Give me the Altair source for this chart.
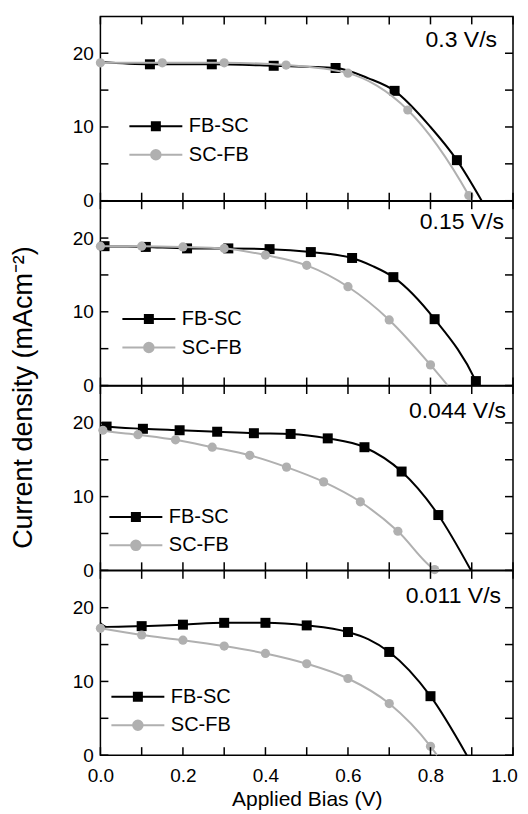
import altair as alt
import pandas as pd

SERIES = ["FB-SC", "SC-FB"]
SPEEDS = ["0.3 V/s", "0.15 V/s", "0.044 V/s", "0.011 V/s"]
X_TICKS = [0.0, 0.1, 0.2, 0.3, 0.4, 0.5, 0.6, 0.7, 0.8, 0.9, 1.0]
Y_TICKS = [0, 5, 10, 15, 20]

# ---- panel 1 : 0.3 V/s ----
p1_fb_line_v = [0.0, 0.12, 0.27, 0.42, 0.57, 0.65, 0.713, 0.80, 0.864, 0.924]
p1_fb_line_j = [18.8, 18.5, 18.5, 18.3, 18.0, 16.6, 14.9, 10.0, 5.5, 0.0]
p1_fb_mark_v = [0.12, 0.27, 0.42, 0.57, 0.713, 0.864]
p1_fb_mark_j = [18.5, 18.5, 18.3, 18.0, 14.9, 5.5]
p1_sc_line_v = [0.0, 0.15, 0.30, 0.45, 0.60, 0.67, 0.745, 0.893, 0.90]
p1_sc_line_j = [18.7, 18.7, 18.7, 18.4, 17.3, 15.6, 12.3, 0.7, 0.0]
p1_sc_mark_v = [0.0, 0.15, 0.30, 0.45, 0.60, 0.745, 0.893]
p1_sc_mark_j = [18.7, 18.7, 18.7, 18.4, 17.3, 12.3, 0.7]

# ---- panel 2 : 0.15 V/s ----
p2_fb_line_v = [0.0, 0.01, 0.11, 0.21, 0.31, 0.41, 0.51, 0.61, 0.66, 0.71, 0.81, 0.91, 0.915]
p2_fb_line_j = [19.0, 18.9, 18.8, 18.6, 18.6, 18.5, 18.1, 17.3, 16.2, 14.7, 9.0, 0.6, 0.0]
p2_fb_mark_v = [0.01, 0.11, 0.21, 0.31, 0.41, 0.51, 0.61, 0.71, 0.81, 0.91]
p2_fb_mark_j = [18.9, 18.8, 18.6, 18.6, 18.5, 18.1, 17.3, 14.7, 9.0, 0.6]
p2_sc_line_v = [0.0, 0.10, 0.20, 0.30, 0.40, 0.50, 0.60, 0.70, 0.80, 0.842]
p2_sc_line_j = [18.9, 18.9, 18.8, 18.6, 17.7, 16.3, 13.4, 8.9, 2.8, 0.0]
p2_sc_mark_v = [0.0, 0.10, 0.20, 0.30, 0.40, 0.50, 0.60, 0.70, 0.80]
p2_sc_mark_j = [18.9, 18.9, 18.8, 18.6, 17.7, 16.3, 13.4, 8.9, 2.8]

# ---- panel 3 : 0.044 V/s ----
p3_fb_line_v = [0.0, 0.015, 0.103, 0.192, 0.283, 0.372, 0.461, 0.551, 0.640, 0.730, 0.819, 0.898]
p3_fb_line_j = [19.6, 19.5, 19.2, 19.0, 18.8, 18.6, 18.5, 17.9, 16.7, 13.4, 7.5, 0.0]
p3_fb_mark_v = [0.015, 0.103, 0.192, 0.283, 0.372, 0.461, 0.551, 0.640, 0.730, 0.819]
p3_fb_mark_j = [19.5, 19.2, 19.0, 18.8, 18.6, 18.5, 17.9, 16.7, 13.4, 7.5]
p3_sc_line_v = [0.0, 0.006, 0.091, 0.182, 0.271, 0.362, 0.451, 0.541, 0.630, 0.721, 0.810, 0.813]
p3_sc_line_j = [19.1, 19.0, 18.4, 17.7, 16.7, 15.6, 14.0, 12.0, 9.3, 5.3, 0.1, 0.0]
p3_sc_mark_v = [0.006, 0.091, 0.182, 0.271, 0.362, 0.451, 0.541, 0.630, 0.721, 0.810]
p3_sc_mark_j = [19.0, 18.4, 17.7, 16.7, 15.6, 14.0, 12.0, 9.3, 5.3, 0.1]

# ---- panel 4 : 0.011 V/s ----
p4_fb_line_v = [0.0, 0.015, 0.1, 0.2, 0.3, 0.4, 0.5, 0.6, 0.65, 0.7, 0.8, 0.888]
p4_fb_line_j = [17.9, 17.4, 17.5, 17.7, 17.95, 17.95, 17.6, 16.7, 15.7, 14.0, 8.0, 0.0]
p4_fb_mark_v = [0.1, 0.2, 0.3, 0.4, 0.5, 0.6, 0.7, 0.8]
p4_fb_mark_j = [17.5, 17.7, 17.95, 17.95, 17.6, 16.7, 14.0, 8.0]
p4_sc_line_v = [0.0, 0.1, 0.2, 0.3, 0.4, 0.5, 0.6, 0.7, 0.8, 0.816]
p4_sc_line_j = [17.2, 16.3, 15.6, 14.8, 13.8, 12.4, 10.4, 7.0, 1.2, 0.0]
p4_sc_mark_v = [0.0, 0.1, 0.2, 0.3, 0.4, 0.5, 0.6, 0.7, 0.8]
p4_sc_mark_j = [17.2, 16.3, 15.6, 14.8, 13.8, 12.4, 10.4, 7.0, 1.2]

PANEL_DATA = [
    (p1_fb_line_v, p1_fb_line_j, p1_fb_mark_v, p1_fb_mark_j, p1_sc_line_v, p1_sc_line_j, p1_sc_mark_v, p1_sc_mark_j),
    (p2_fb_line_v, p2_fb_line_j, p2_fb_mark_v, p2_fb_mark_j, p2_sc_line_v, p2_sc_line_j, p2_sc_mark_v, p2_sc_mark_j),
    (p3_fb_line_v, p3_fb_line_j, p3_fb_mark_v, p3_fb_mark_j, p3_sc_line_v, p3_sc_line_j, p3_sc_mark_v, p3_sc_mark_j),
    (p4_fb_line_v, p4_fb_line_j, p4_fb_mark_v, p4_fb_mark_j, p4_sc_line_v, p4_sc_line_j, p4_sc_mark_v, p4_sc_mark_j),
]

# ---- styling / layout ----
FONT = "Liberation Sans"
BLACK = "#000000"
GRAY = "#b0b0b0"
W, H = 413, 184.5
X_MAX, Y_MAX = 1.0, 25.0
TICK_SIZE = 64  # symbol size: sqrt(64) = 8 px tick length
TICK_UP, TICK_DOWN = "M0,0V-2", "M0,0V2"
TICK_RIGHT, TICK_LEFT = "M0,0H2", "M0,0H-2"
LEGEND_PATHS = [
    "M-5.3,0H5.3M-0.8,-0.8H0.8V0.8H-0.8Z",
    "M-5.3,0H5.3M0.95,0A0.95,0.95,0,1,1,-0.95,0A0.95,0.95,0,1,1,0.95,0Z",
]
LEG_X = [31, 24, 11, 13]
LEG_Y = [100, 108, 121, 116]
SPD_X = [397, 404, 406, 401]
SPD_Y = [24, 21, 25, 25]

xscale = alt.Scale(domain=[0, X_MAX], nice=False, zero=False)
yscale = alt.Scale(domain=[0, Y_MAX], nice=False)


def make_panel(i):
    fbv, fbj, fbmv, fbmj, scv, scj, scmv, scmj = PANEL_DATA[i]
    fb_line = pd.DataFrame({"v": fbv, "j": fbj})
    fb_mark = pd.DataFrame({"v": fbmv, "j": fbmj})
    sc_line = pd.DataFrame({"v": scv, "j": scj})
    sc_mark = pd.DataFrame({"v": scmv, "j": scmj})
    xt_bottom = pd.DataFrame({"v": X_TICKS, "j": [0.0] * len(X_TICKS)})
    xt_top = pd.DataFrame({"v": X_TICKS, "j": [Y_MAX] * len(X_TICKS)})
    yt_left = pd.DataFrame({"j": Y_TICKS, "v": [0.0] * len(Y_TICKS)})
    yt_right = pd.DataFrame({"j": Y_TICKS, "v": [X_MAX] * len(Y_TICKS)})
    last = i == 3

    x_bottom = alt.Axis(
        orient="bottom", values=X_TICKS, ticks=False, tickSize=0,
        labels=last, labelFlush=False, labelOverlap=False, labelPadding=11,
        labelOffset={"condition": {"test": "datum.value > 0.95", "value": -9}, "value": 0},
        labelExpr="round(datum.value * 10) % 2 === 0 ? format(datum.value, '.1f') : ''",
        titleFontSize=21, titlePadding=3, titleFontWeight="normal",
    )
    y_left_kwargs = dict(
        orient="left", values=Y_TICKS, ticks=False, tickSize=0,
        labelFlush=False, labelOverlap=False, labelPadding=7,
        labelExpr="datum.value % 10 === 0 ? datum.label : ''",
    )
    if i == 1:
        y_left_kwargs.update(
            titleFontSize=27, titleFontWeight="normal", titleAngle=270,
            titleX=-69, titleY=196, titleAlign="center", titleBaseline="alphabetic",
        )
    y_left = alt.Axis(**y_left_kwargs)

    xt = "Applied Bias (V)" if last else None
    yt = "Current density (mAcm\u207b\u00b2)" if i == 1 else None

    # identical position encodings in every layer -> one shared axis per side
    X = alt.X("v:Q", scale=xscale, axis=x_bottom, title=xt)
    Y = alt.Y("j:Q", scale=yscale, axis=y_left, title=yt)

    line_fb = alt.Chart(fb_line).mark_line(
        interpolate="monotone", color=BLACK, strokeWidth=2
    ).encode(x=X, y=Y)
    pts_fb = alt.Chart(fb_mark).mark_point(
        shape="square", filled=True, color=BLACK, size=100, opacity=1
    ).encode(x=X, y=Y)
    line_sc = alt.Chart(sc_line).mark_line(
        interpolate="monotone", color=GRAY, strokeWidth=2
    ).encode(x=X, y=Y)
    pts_sc = alt.Chart(sc_mark).mark_point(
        shape="circle", filled=True, color=GRAY, size=85, opacity=1
    ).encode(x=X, y=Y)

    # inward ticks on all four sides of the frame, drawn as stroke-only symbols
    def tick_layer(df, path):
        return alt.Chart(df).mark_point(
            shape=path, filled=False, color=BLACK, strokeWidth=1.5,
            size=TICK_SIZE, opacity=1,
        ).encode(x=X, y=Y)

    ticks_bottom = tick_layer(xt_bottom, TICK_UP)
    ticks_top = tick_layer(xt_top, TICK_DOWN)
    ticks_left = tick_layer(yt_left, TICK_RIGHT)
    ticks_right = tick_layer(yt_right, TICK_LEFT)

    leg = alt.Legend(
        title=None, orient="none", direction="vertical",
        legendX=LEG_X[i], legendY=LEG_Y[i],
        symbolSize=100, symbolStrokeWidth=2, symbolOpacity=1,
        symbolOffset=14.5, labelOffset=23, rowPadding=8.5,
        labelFont=FONT, labelFontSize=20, labelColor="black",
    )
    legend_layer = alt.Chart(pd.DataFrame({"series": SERIES})).transform_filter(
        "false"
    ).mark_point(filled=True).encode(
        fill=alt.Fill("series:N", scale=alt.Scale(domain=SERIES, range=[BLACK, GRAY]), legend=leg),
        stroke=alt.Stroke("series:N", scale=alt.Scale(domain=SERIES, range=[BLACK, GRAY]), legend=leg),
        shape=alt.Shape("series:N", scale=alt.Scale(domain=SERIES, range=LEGEND_PATHS), legend=leg),
    )
    speed = alt.Chart(pd.DataFrame({"speed": [SPEEDS[i]]})).mark_text(
        align="right", baseline="middle", font=FONT, fontSize=23, color="black"
    ).encode(
        text="speed:N",
        x=alt.value(SPD_X[i]),
        y=alt.value(SPD_Y[i]),
    )
    return alt.layer(
        line_fb, pts_fb, line_sc, pts_sc,
        ticks_bottom, ticks_top, ticks_left, ticks_right,
        legend_layer, speed,
    ).properties(width=W, height=H)


panels = [make_panel(i) for i in range(4)]

chart = alt.vconcat(*panels, spacing=0, bounds="flush").resolve_scale(
    x="independent", y="independent",
    fill="independent", stroke="independent", shape="independent",
).resolve_legend(
    fill="independent", stroke="independent", shape="independent"
).properties(
    padding={"left": 0.5, "top": 4, "right": 2, "bottom": 0}
).configure_view(
    stroke="black", strokeWidth=1.5
).configure_axis(
    grid=False, domain=False,
    labelFont=FONT, labelFontSize=19, labelColor="black",
    titleFont=FONT, titleColor="black",
)

chart.save("out.html", embed_options={"renderer": "svg", "actions": False})
